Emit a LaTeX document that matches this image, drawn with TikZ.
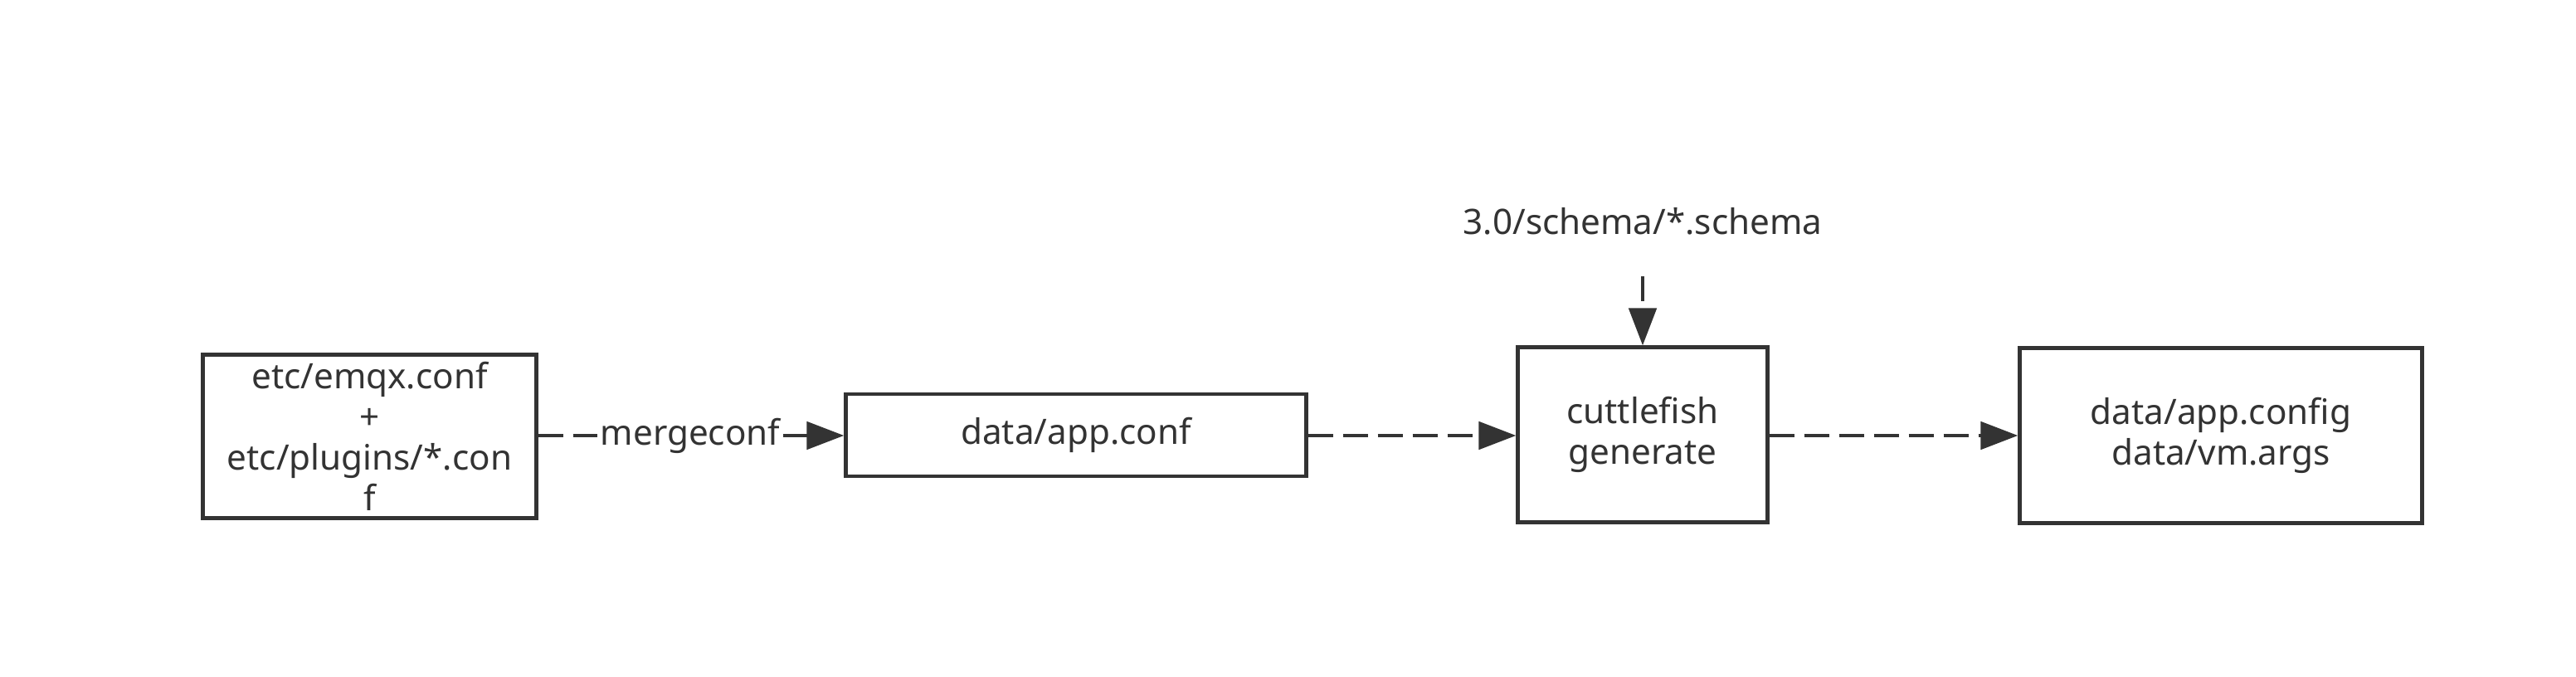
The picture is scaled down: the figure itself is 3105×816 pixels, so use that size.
\documentclass[tikz,border=0pt]{standalone}
\usepackage{fontspec}
\setmainfont{Noto Sans}
\usetikzlibrary{arrows.meta}
\definecolor{ink}{HTML}{333333}
\tikzset{
  box/.style={draw=ink, line width=1.4pt, fill=white, inner sep=0pt, align=center, text=ink, font=\fontsize{12pt}{14pt}\selectfont},
  lbl/.style={inner sep=1pt, text=ink, font=\fontsize{12pt}{14pt}\selectfont},
  dashline/.style={draw=ink, line width=1.4pt, dash pattern=on 0.30cm off 0.12cm},
  tip/.style={-{Triangle[length=0.45cm,width=0.33cm]}},
  flow/.style={dashline, tip},
  solidflow/.style={draw=ink, line width=1.4pt, tip}
}
\begin{document}
\begin{tikzpicture}[x=0.01cm,y=-0.01cm]
\useasboundingbox (0,0) rectangle (3105,816);
\node[box, minimum width=4.01cm, minimum height=1.96cm] (src) at (445.5,526) {etc/emqx.conf\\+\\etc/plugins/*.con\\f};
\node[box, minimum width=5.54cm, minimum height=0.99cm] (app) at (1297,524.5) {data/app.conf};
\node[box, minimum width=3.00cm, minimum height=2.10cm] (gen) at (1980,524) {cuttlefish\\generate};
\node[box, minimum width=4.84cm, minimum height=2.10cm] (out) at (2677,525) {data/app.config\\data/vm.args};
\node[lbl] (schema) at (1980,267) {3.0/schema/*.schema};
\node[lbl, minimum height=0.3cm] (merge) at (832,525) {mergeconf};
\coordinate (sstart) at (1980,333);
\draw[dashline] (src.east |- merge.west) -- (merge.west);
\draw[solidflow] (merge.east) -- (app.west |- merge.east);
\draw[flow] (app.east |- 0,525) -- (gen.west |- 0,525);
\draw[flow] (gen.east |- 0,525) -- (out.west |- 0,525);
\draw[flow] (sstart) -- (gen.north);
\end{tikzpicture}
\end{document}
